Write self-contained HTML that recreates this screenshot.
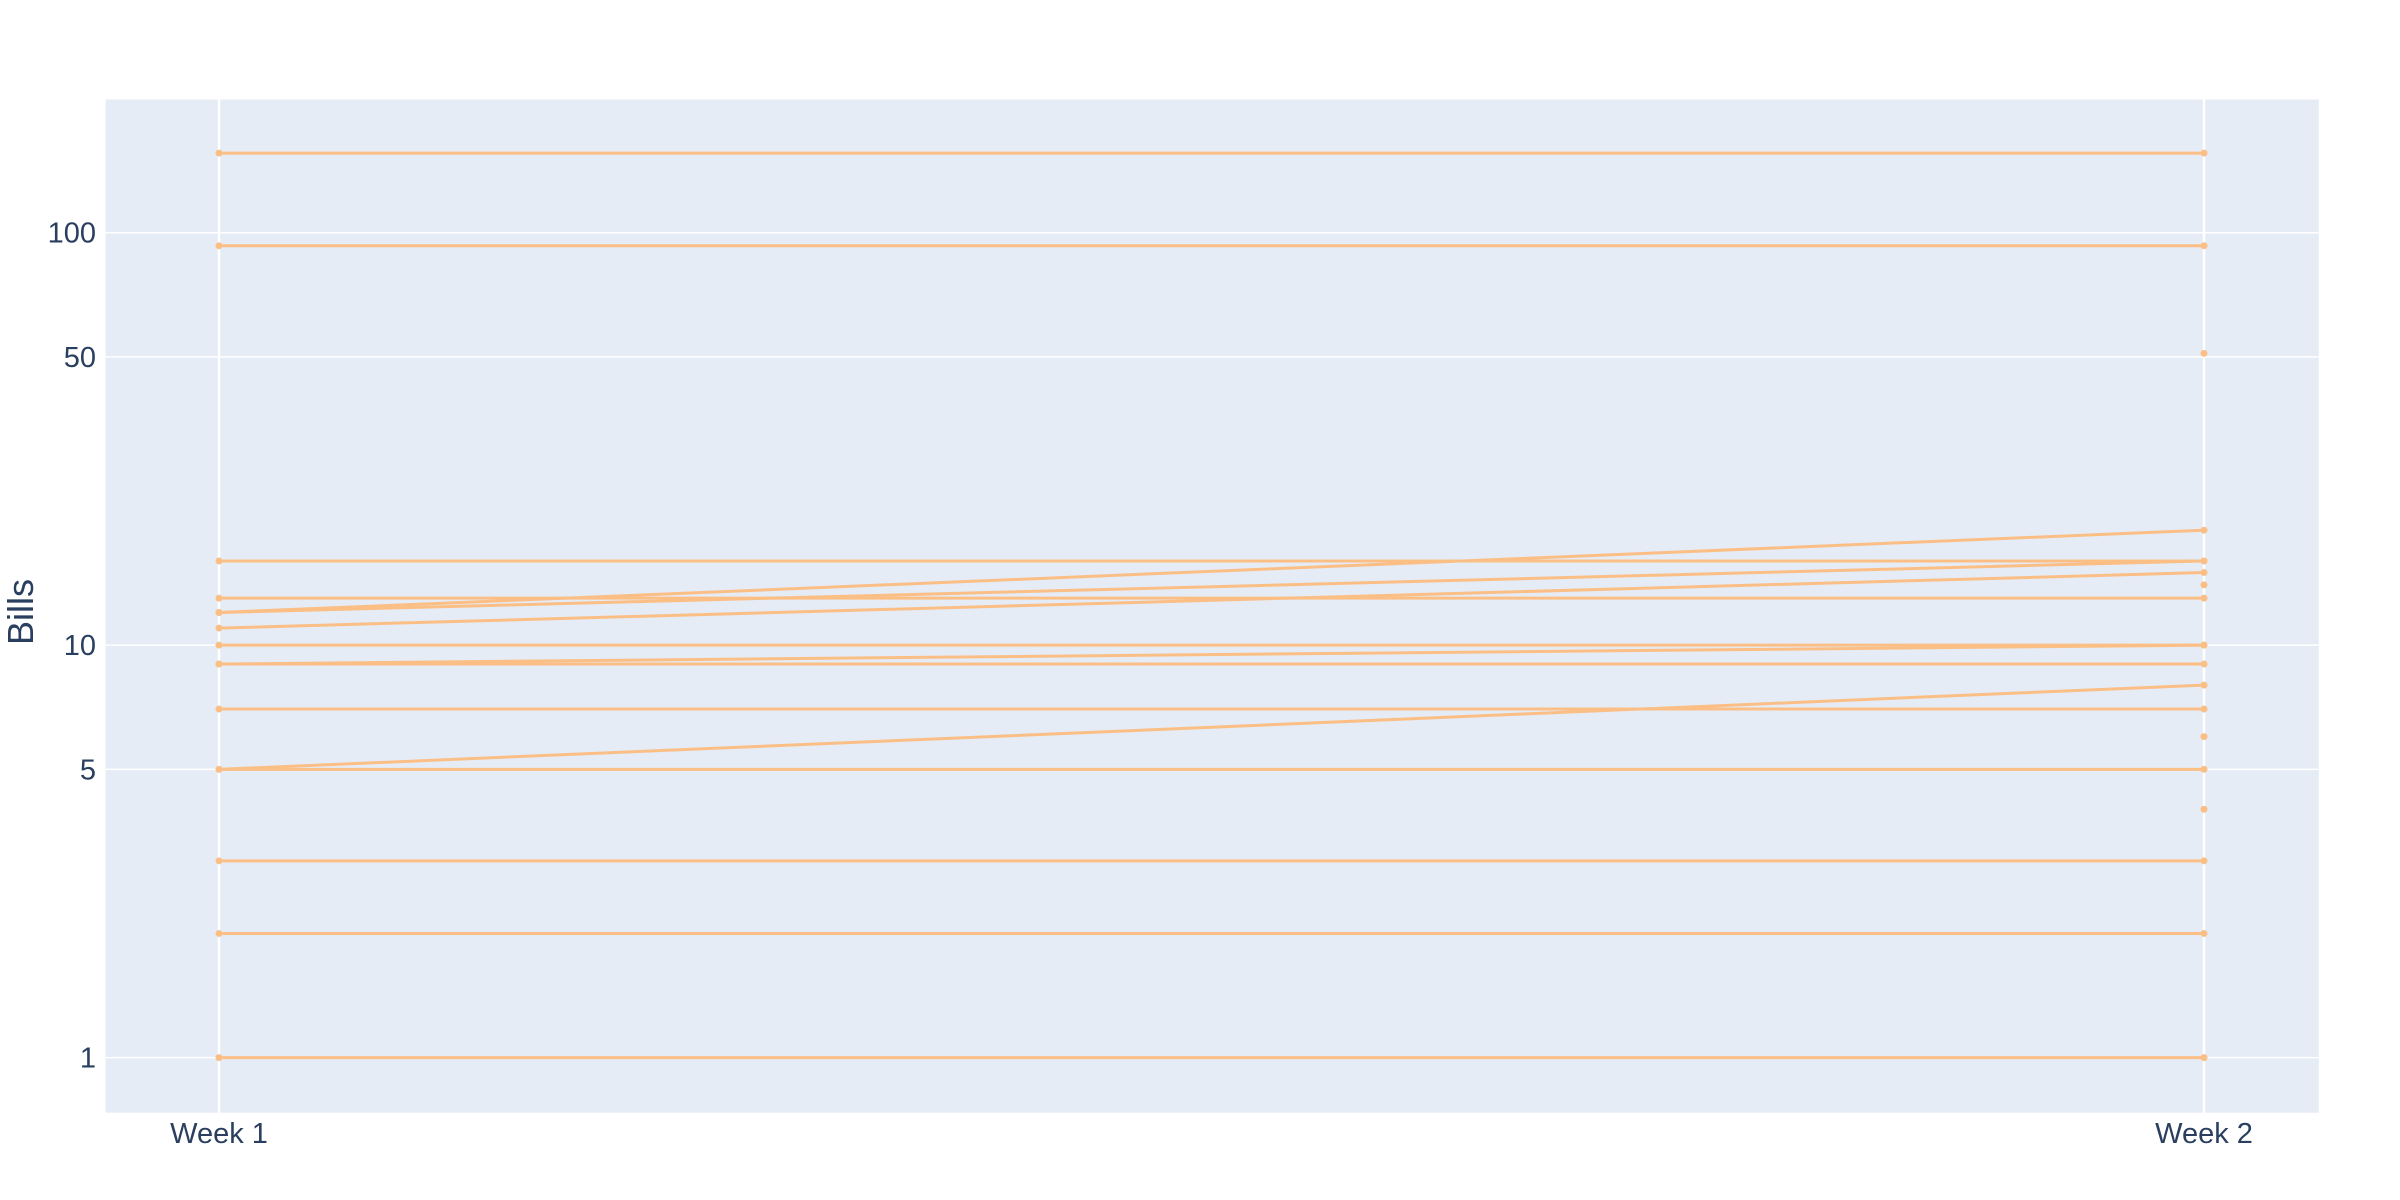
<!DOCTYPE html>
<html><head><meta charset="utf-8"><style>
html,body{margin:0;padding:0;background:#fff;}
svg{display:block;font-family:"Liberation Sans",sans-serif;}
</style></head><body>
<svg id="chart" width="2400" height="1200" viewBox="0 0 2400 1200" xmlns="http://www.w3.org/2000/svg">
<rect x="105.6" y="99.5" width="2213.2" height="1013.2" fill="#E5ECF6"/>
<g id="grid"></g>
<g id="lines"></g>
<g id="marks"></g>
<g id="yticks"></g>
<g id="xticks"></g>
<text transform="translate(33,612) rotate(-90)" text-anchor="middle" font-size="36" fill="#2a3f5f">Bills</text>
</svg>
<script>
const categories = ["Week 1", "Week 2"];
const week1Values = [156, 93, 16, 13, 12, 12, 11, 10, 9, 9, 7, 5, 5, 3, 2, 1];
const week2Values = [156, 93, 16, 13, 19, 16, 15, 10, 9, 10, 7, 5, 8, 3, 2, 1];
const week2Only = [51, 14, 6, 4];
const yTickValues = [1, 5, 10, 50, 100];
const yTickLabels = ["1", "5", "10", "50", "100"];

const NS = "http://www.w3.org/2000/svg";
const plotL = 105.6, plotR = 2318.8, plotT = 99.5, plotB = 1112.7;
const logMin = -0.1336, logMax = 2.323;
const xPos = [219, 2204];
function xScale(i){ return xPos[0] + (xPos[1]-xPos[0]) * i/(categories.length-1); }
function yScale(v){ return plotB - (Math.log10(v)-logMin)/(logMax-logMin)*(plotB-plotT); }
function mk(tag, attrs, parent){ const e=document.createElementNS(NS,tag); for(const k in attrs) e.setAttribute(k,attrs[k]); parent.appendChild(e); return e; }

const grid=document.getElementById('grid');
yTickValues.forEach((v,i)=>{
  const l=mk('line',{x1:plotL,x2:plotR,y1:yScale(v),y2:yScale(v),stroke:'#fff','stroke-width':1.5},grid);
  
  
  const t=mk('text',{x:96,y:yScale(v)+10,'text-anchor':'end','font-size':29,fill:'#2a3f5f'},document.getElementById('yticks'));
  t.textContent=yTickLabels[i];
  
  
});
categories.forEach((c,i)=>{
  const l=mk('line',{x1:xScale(i),x2:xScale(i),y1:plotT,y2:plotB,stroke:'#fff','stroke-width':2.5},grid);
  
  
  const t=mk('text',{x:xScale(i),y:1143,'text-anchor':'middle','font-size':29,fill:'#2a3f5f'},document.getElementById('xticks'));
  t.textContent=c;
  
  
});
const col='#FBBF86';
const lines=document.getElementById('lines'), marks=document.getElementById('marks');
week1Values.forEach((v,i)=>{
  const l=mk('line',{x1:xScale(0),y1:yScale(v),x2:xScale(1),y2:yScale(week2Values[i]),stroke:col,'stroke-width':3},lines);
  
  
  [[0,v],[1,week2Values[i]]].forEach(p=>{
    const m=mk('circle',{cx:xScale(p[0]),cy:yScale(p[1]),r:3.5,fill:col},marks);
    
    
  });
});
week2Only.forEach(v=>{
  const m=mk('circle',{cx:xScale(1),cy:yScale(v),r:3.5,fill:col},marks);
  
  
});
</script>
</body></html>
